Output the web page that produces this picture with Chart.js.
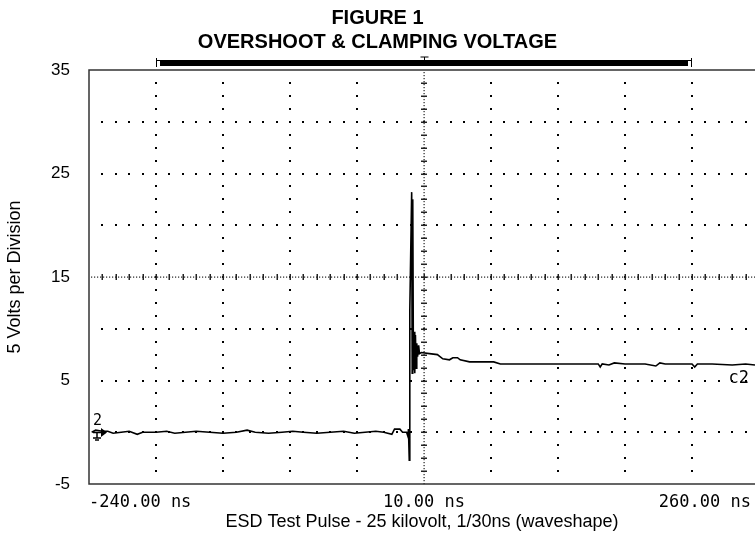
<!DOCTYPE html>
<html>
<head>
<meta charset="utf-8">
<script src="https://cdn.jsdelivr.net/npm/chart.js@4.4.0/dist/chart.umd.min.js"></script>
<style>
  html, body { margin: 0; padding: 0; background: #fff; }
  #wrap { width: 755px; height: 537px; }
</style>
</head>
<body>
<div id="wrap"><canvas id="scope"></canvas></div>
<script>
// captured trace, channel 2 (time in ns, volts)
const times = [-238, -235, -230, -226, -222, -216, -210, -204, -200, -190, -182, -176, -168, -160, -150, -140,
  -130, -122, -116, -106, -96, -88, -80, -70, -60, -50, -42, -34, -26, -20, -14, -12, -8, -6, -3,
  -2, -1.6, -1.0, -0.6, 0.8, 1.2, 1.6, 2.1, 2.7, 3.1, 3.6, 4.1, 4.6, 5.2, 6.0, 6.6, 8, 14, 20, 24,
  29, 31.5, 35, 37, 44, 52, 62, 67, 80, 100, 118, 140, 141.5, 143, 148, 152, 160, 175, 183, 186,
  190, 210, 212, 214, 225, 240, 250, 257];
const volts = [0.0, 0.2, 0.1, 0.1, -0.1, 0.0, 0.1, -0.2, 0.0, 0.0, 0.1, -0.1, 0.0, 0.1, 0.0, -0.1,
  0.0, 0.2, 0.0, -0.1, 0.0, 0.1, 0.0, -0.1, 0.0, 0.1, -0.1, 0.0, 0.1, 0.0, -0.2, 0.3, 0.3, 0.0, 0.0,
  -0.4, 0.3, -2.7, 11.8, 23.2, 5.7, 22.5, 6.0, 9.7, 5.7, 9.4, 6.2, 8.6, 7.3, 8.4, 7.6, 7.7, 7.6, 7.5, 7.1,
  7.0, 7.2, 7.2, 7.0, 6.8, 6.8, 6.8, 6.6, 6.6, 6.6, 6.6, 6.6, 6.3, 6.6, 6.5, 6.7, 6.6, 6.6, 6.4, 6.7,
  6.6, 6.6, 6.3, 6.6, 6.6, 6.5, 6.6, 6.5];

const yTickValues = [35, 25, 15, 5, -5];
const xTickValues = [-240, 10, 254];
const xTickLabels = ['-240.00 ns', '10.00 ns', '260.00 ns'];

const nsPerDiv = 50, voltsPerDiv = 5;
const tStart = -240, tEnd = 257, vMin = -5, vMax = 35;

const scopeGrid = {
  id: 'scopeGrid',
  beforeDatasetsDraw(chart) {
    const { ctx, chartArea: a, scales: { x, y } } = chart;
    ctx.save();
    ctx.fillStyle = '#000';
    const dot = (px, py) => ctx.fillRect(Math.round(px) - 1, Math.round(py) - 1, 2, 2);

    // vertical division lines
    for (let k = 1; k <= 9; k++) {
      const t = tStart + k * nsPerDiv;
      if (t === 10) continue;
      const px = x.getPixelForValue(t);
      for (let v = vMin + voltsPerDiv / 4; v < vMax; v += voltsPerDiv / 4) dot(px, y.getPixelForValue(v));
    }
    // horizontal division lines
    for (let v = vMin + voltsPerDiv; v < vMax; v += voltsPerDiv) {
      if (v === 15) continue;
      const py = y.getPixelForValue(v);
      for (let t = tStart + nsPerDiv / 5; t <= tEnd; t += nsPerDiv / 5) dot(x.getPixelForValue(t), py);
    }
    // centre cross, dense dots with minor ticks
    const cx = Math.round(x.getPixelForValue(10));
    const cy = Math.round(y.getPixelForValue(15));
    ctx.fillStyle = '#222';
    for (let py = a.top + 2; py < a.bottom; py += 3) ctx.fillRect(cx - 0.5, py, 1.2, 1.2);
    for (let px = a.left + 2; px < a.right; px += 3) ctx.fillRect(px, cy - 0.5, 1.2, 1.2);
    for (let v = vMin + voltsPerDiv / 4; v < vMax; v += voltsPerDiv / 4) {
      const py = Math.round(y.getPixelForValue(v));
      ctx.fillRect(cx - 3, py - 0.5, 6, 1.5);
    }
    for (let t = tStart + nsPerDiv / 5; t <= tEnd; t += nsPerDiv / 5) {
      const px = Math.round(x.getPixelForValue(t));
      ctx.fillRect(px - 0.5, cy - 3, 1.5, 6);
    }

    // frame
    ctx.strokeStyle = '#333';
    ctx.lineWidth = 1.5;
    ctx.beginPath();
    ctx.moveTo(chart.width, a.top); ctx.lineTo(a.left, a.top);
    ctx.lineTo(a.left, a.bottom); ctx.lineTo(chart.width, a.bottom);
    ctx.stroke();
    ctx.restore();
  },
  afterDraw(chart) {
    const { ctx, chartArea: a, scales: { x, y } } = chart;
    ctx.save();
    ctx.fillStyle = '#000';
    ctx.strokeStyle = '#000';
    // record window bar above the grid
    const x1 = Math.round(x.getPixelForValue(tStart + nsPerDiv));
    const x2 = Math.round(x.getPixelForValue(tStart + 9 * nsPerDiv));
    const by = a.top - 9;
    ctx.lineWidth = 1;
    ctx.beginPath();
    ctx.moveTo(x1 + 0.5, by - 3); ctx.lineTo(x1 + 0.5, by + 6);
    ctx.moveTo(x2 - 0.5, by - 3); ctx.lineTo(x2 - 0.5, by + 6);
    ctx.moveTo(x1, by - 0.5); ctx.lineTo(x2, by - 0.5);
    ctx.stroke();
    ctx.fillRect(x1 + 4, by, x2 - x1 - 8, 5);
    // trigger marker
    const cx = Math.round(x.getPixelForValue(10)) + 0.5;
    ctx.beginPath();
    ctx.moveTo(cx - 4, by - 4); ctx.lineTo(cx + 4, by - 4);
    ctx.moveTo(cx, by - 4); ctx.lineTo(cx, by);
    ctx.stroke();

    // channel 2 ground marker
    const gy = Math.round(y.getPixelForValue(0));
    const gx = a.left + 4;
    ctx.font = '15px "DejaVu Sans Mono"';
    ctx.textAlign = 'left';
    ctx.textBaseline = 'bottom';
    ctx.fillText('2', gx, gy - 3);
    ctx.lineWidth = 1.5;
    ctx.beginPath();
    ctx.moveTo(gx, gy + 0.5); ctx.lineTo(gx + 8, gy + 0.5);
    ctx.moveTo(gx + 4, gy); ctx.lineTo(gx + 4, gy + 6);
    ctx.moveTo(gx, gy + 6); ctx.lineTo(gx + 8, gy + 6);
    ctx.moveTo(gx + 2, gy + 8); ctx.lineTo(gx + 6, gy + 8);
    ctx.stroke();
    ctx.beginPath();
    ctx.moveTo(gx + 8, gy - 4); ctx.lineTo(gx + 14, gy + 0.5); ctx.lineTo(gx + 8, gy + 5);
    ctx.closePath(); ctx.fill();

    // channel label at the right end of the trace
    ctx.font = '17px "DejaVu Sans Mono"';
    ctx.textAlign = 'right';
    ctx.textBaseline = 'middle';
    ctx.fillText('c2', a.right - 6, y.getPixelForValue(volts[volts.length - 1]) + 14);
    ctx.restore();
  }
};

new Chart(document.getElementById('scope'), {
  type: 'line',
  data: {
    datasets: [{
      data: times.map((t, i) => ({ x: t, y: volts[i] })),
      borderColor: '#000',
      borderWidth: 1.6,
      pointRadius: 0,
      tension: 0,
      fill: false
    }]
  },
  options: {
    responsive: true,
    maintainAspectRatio: false,
    animation: false,
    layout: { padding: { left: 0, right: 0, top: 0, bottom: 0 } },
    plugins: {
      legend: { display: false },
      tooltip: { enabled: false },
      title: {
        display: true,
        text: ['FIGURE 1', 'OVERSHOOT & CLAMPING VOLTAGE'],
        color: '#000',
        font: { family: '"Liberation Sans", Arial, sans-serif', size: 20, weight: 'bold', lineHeight: 1.2 },
        padding: { top: 6, bottom: 16 }
      }
    },
    scales: {
      x: {
        type: 'linear',
        min: tStart,
        max: tEnd,
        grid: { display: false, drawTicks: false },
        border: { display: false },
        afterBuildTicks(scale) { scale.ticks = xTickValues.map(v => ({ value: v })); },
        afterFit(scale) {
          scale.height = 53;
          scale.paddingLeft = 0;
          scale.paddingRight = 0;
        },
        ticks: {
          align: 'inner',
          padding: 8,
          color: '#000',
          font: { family: '"DejaVu Sans Mono", monospace', size: 17 },
          callback: (v, i) => xTickLabels[i]
        },
        title: {
          display: true,
          text: 'ESD Test Pulse - 25 kilovolt, 1/30ns (waveshape)',
          color: '#000',
          font: { family: '"Liberation Sans", Arial, sans-serif', size: 18 },
          padding: { top: 0, bottom: 4 }
        }
      },
      y: {
        min: vMin,
        max: vMax,
        grid: { display: false, drawTicks: false },
        border: { display: false },
        afterBuildTicks(scale) { scale.ticks = yTickValues.map(v => ({ value: v })); },
        afterFit(scale) {
          scale.width = 89;
          scale.paddingTop = 0;
          scale.paddingBottom = 0;
        },
        ticks: {
          padding: 19,
          color: '#000',
          font: { family: '"Liberation Sans", Arial, sans-serif', size: 17 }
        },
        title: {
          display: true,
          text: '5 Volts per Division',
          color: '#000',
          font: { family: '"Liberation Sans", Arial, sans-serif', size: 18 },
          padding: { top: 4, bottom: 0 }
        }
      }
    }
  },
  plugins: [scopeGrid]
});
</script>
</body>
</html>
